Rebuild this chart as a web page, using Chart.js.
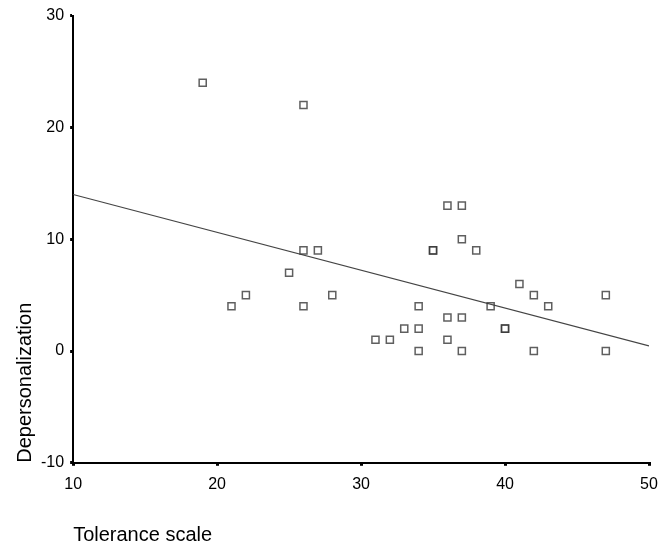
<!DOCTYPE html>
<html>
<head>
<meta charset="utf-8">
<script src="https://cdn.jsdelivr.net/npm/chart.js@4"></script>
<style>
  html, body { margin: 0; padding: 0; background: #fff; }
  #wrap { width: 667px; height: 545px; }
</style>
</head>
<body>
<div id="wrap"><canvas id="scatter_chart" width="667" height="545"></canvas></div>
<script>
// Tolerance scale (x) vs Depersonalization (y)
const toleranceScores = [19, 26, 26, 27, 25, 21, 22, 26, 28, 31, 32, 33, 34, 34, 34, 35, 35, 36, 37, 37, 38, 36, 37, 36, 37, 39, 40, 40, 41, 42, 43, 42, 47, 47];
const depersonalization = [24, 22, 9, 9, 7, 4, 5, 4, 5, 1, 1, 2, 2, 4, 0, 9, 9, 13, 13, 10, 9, 3, 3, 1, 0, 4, 2, 2, 6, 5, 4, 0, 5, 0];
const fitX = [10, 50];
const fitY = [14.0, 0.45];
const xTicks = [10, 20, 30, 40, 50];
const yTicks = [-10, 0, 10, 20, 30];

const points = toleranceScores.map((x, i) => ({ x: x, y: depersonalization[i] }));
const fitLine = fitX.map((x, i) => ({ x: x, y: fitY[i] }));

const font = "'Liberation Sans', Arial, sans-serif";

let scatterChart;
function initScatterChart() {
    const ctx = document.getElementById('scatter_chart').getContext('2d');
    scatterChart = new Chart(ctx, {
        type: 'scatter',
        data: {
            datasets: [{
                label: 'Observed',
                data: points,
                pointStyle: 'rect',
                pointRadius: 5,
                pointHoverRadius: 5,
                borderWidth: 1.5,
                borderColor: 'rgba(55,55,55,0.8)',
                backgroundColor: 'rgba(255,255,255,0)'
            }, {
                type: 'line',
                label: 'Fit',
                data: fitLine,
                borderColor: '#444',
                borderWidth: 1.2,
                pointRadius: 0,
                fill: false,
                tension: 0
            }]
        },
        options: {
            responsive: false,
            animation: false,
            layout: { padding: { left: 15, right: 18, top: 6, bottom: 0 } },
            scales: {
                x: {
                    type: 'linear',
                    min: 10,
                    max: 50,
                    afterBuildTicks: axis => { axis.ticks = xTicks.map(v => ({ value: v })); },
                    border: { display: true, color: '#000', width: 2 },
                    grid: { drawOnChartArea: false, tickLength: 3, color: '#000', lineWidth: 3 },
                    ticks: { color: '#000', font: { family: font, size: 16 }, padding: 9 },
                    title: {
                        display: true,
                        text: 'Tolerance scale',
                        align: 'start',
                        color: '#000',
                        font: { family: font, size: 20, lineHeight: 1 },
                        padding: { top: 22, bottom: 0 }
                    }
                },
                y: {
                    type: 'linear',
                    min: -10,
                    max: 30,
                    afterBuildTicks: axis => { axis.ticks = yTicks.map(v => ({ value: v })); },
                    border: { display: true, color: '#000', width: 2 },
                    grid: { drawOnChartArea: false, tickLength: 3, color: '#000', lineWidth: 3 },
                    ticks: { color: '#000', font: { family: font, size: 16 }, padding: 6 },
                    title: {
                        display: true,
                        text: 'Depersonalization',
                        align: 'start',
                        color: '#000',
                        font: { family: font, size: 20, lineHeight: 1 },
                        padding: { top: 0, bottom: 0 }
                    }
                }
            },
            plugins: {
                legend: { display: false },
                tooltip: { enabled: false }
            }
        }
    });
}

initScatterChart();
</script>
</body>
</html>
